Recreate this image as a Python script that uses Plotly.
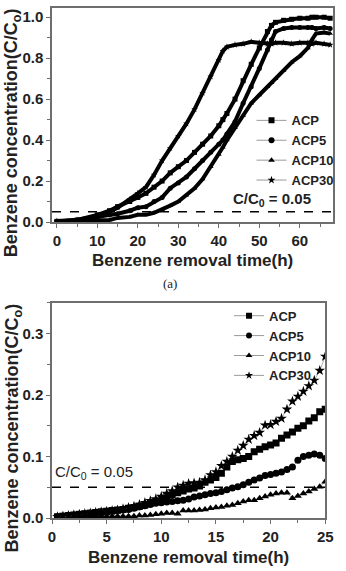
import plotly.graph_objects as go

# ---------------- data: panel (a) ----------------
T_TOP = [0, 5, 10, 13, 15, 18, 20, 22, 24, 26, 28, 30, 32, 34, 36, 38, 40, 41, 42, 44,
         46, 48, 50, 52, 53, 54, 56, 58, 60, 62, 63, 64, 66, 67.5]
ACP_TOP = [0.003, 0.01, 0.035, 0.055, 0.075, 0.10, 0.12, 0.14, 0.17, 0.20, 0.24, 0.27, 0.30, 0.34,
           0.38, 0.42, 0.47, 0.50, 0.53, 0.60, 0.69, 0.77, 0.85, 0.93, 0.96, 0.975, 0.985, 0.99,
           0.995, 0.995, 1.0, 1.0, 1.0, 0.995]
ACP5_TOP = [0.003, 0.008, 0.025, 0.035, 0.04, 0.055, 0.07, 0.075, 0.10, 0.12, 0.165, 0.19, 0.22,
            0.26, 0.30, 0.34, 0.38, 0.40, 0.43, 0.49, 0.58, 0.66, 0.75, 0.84, 0.89, 0.93, 0.945,
            0.95, 0.95, 0.95, 0.95, 0.945, 0.95, 0.945]
ACP10_TOP = [0.002, 0.004, 0.005, 0.01, 0.02, 0.025, 0.035, 0.035, 0.045, 0.06, 0.08, 0.10, 0.13,
             0.165, 0.21, 0.27, 0.33, 0.365, 0.40, 0.46, 0.52, 0.58, 0.62, 0.66, 0.68, 0.70, 0.74,
             0.78, 0.81, 0.85, 0.89, 0.92, 0.925, 0.92]
ACP30_TOP = [0.005, 0.01, 0.03, 0.05, 0.07, 0.11, 0.14, 0.17, 0.23, 0.30, 0.36, 0.42, 0.48, 0.55,
             0.63, 0.71, 0.79, 0.835, 0.855, 0.865, 0.87, 0.88, 0.875, 0.87, 0.87, 0.875, 0.875,
             0.87, 0.875, 0.875, 0.87, 0.875, 0.87, 0.865]

# ---------------- data: panel (b) ----------------
T_BOT = [0.5 * i for i in range(1, 51)]
ACP_BOT = [0.002, 0.003, 0.004, 0.005, 0.006, 0.007, 0.008, 0.009, 0.010, 0.011, 0.012, 0.013,
           0.014, 0.016, 0.017, 0.019, 0.021, 0.024, 0.027, 0.031, 0.035, 0.038, 0.041, 0.044,
           0.047, 0.049, 0.052, 0.058, 0.062, 0.066, 0.073, 0.083, 0.092, 0.095, 0.097, 0.100,
           0.108, 0.112, 0.116, 0.119, 0.122, 0.130, 0.135, 0.140, 0.146, 0.150, 0.158, 0.163,
           0.173, 0.177]
ACP5_BOT = [0.002, 0.003, 0.004, 0.004, 0.005, 0.006, 0.007, 0.008, 0.009, 0.010, 0.011, 0.012,
            0.013, 0.014, 0.016, 0.018, 0.020, 0.022, 0.024, 0.025, 0.026, 0.027, 0.028, 0.029,
            0.031, 0.034, 0.036, 0.038, 0.040, 0.041, 0.043, 0.046, 0.049, 0.051, 0.054, 0.058,
            0.062, 0.065, 0.069, 0.071, 0.073, 0.075, 0.079, 0.083, 0.094, 0.100, 0.102, 0.104,
            0.102, 0.097]
ACP10_BOT = [0.001, 0.001, 0.001, 0.002, 0.002, 0.002, 0.002, 0.003, 0.003, 0.003, 0.003, 0.003,
             0.003, 0.003, 0.003, 0.004, 0.004, 0.005, 0.006, 0.007, 0.008, 0.008, 0.007, 0.012,
             0.012, 0.012, 0.013, 0.014, 0.016, 0.017, 0.018, 0.020, 0.021, 0.024, 0.027, 0.029,
             0.029, 0.032, 0.035, 0.038, 0.040, 0.041, 0.041, 0.032, 0.036, 0.040, 0.043, 0.047,
             0.051, 0.059]
ACP30_BOT = [0.002, 0.003, 0.004, 0.005, 0.006, 0.007, 0.008, 0.009, 0.010, 0.011, 0.012, 0.013,
             0.015, 0.017, 0.019, 0.022, 0.025, 0.028, 0.031, 0.035, 0.040, 0.044, 0.050, 0.053,
             0.056, 0.057, 0.058, 0.062, 0.070, 0.075, 0.085, 0.092, 0.100, 0.110, 0.118, 0.128,
             0.134, 0.139, 0.151, 0.152, 0.157, 0.162, 0.177, 0.190, 0.198, 0.206, 0.215, 0.224,
             0.240, 0.263]

NAMES = ["ACP", "ACP5", "ACP10", "ACP30"]
SYMBOLS = ["square", "circle", "triangle-up", "star"]
BOT_SIZES = [7, 7, 7, 8]
THRESHOLD = 0.05
THRESH_LABEL = "C/C<sub>0</sub> = 0.05"
Y_TITLE = "Benzene concentration(C/C<sub>o</sub>)"
X_TITLE = "Benzene removal time(h)"

FONT = "Liberation Sans, Arial, sans-serif"

fig = go.Figure()

top_series = [ACP_TOP, ACP5_TOP, ACP10_TOP, ACP30_TOP]
bot_series = [ACP_BOT, ACP5_BOT, ACP10_BOT, ACP30_BOT]

for name, sym, ys in zip(NAMES, SYMBOLS, top_series):
    fig.add_trace(go.Scatter(x=T_TOP, y=ys, mode="lines+markers", xaxis="x", yaxis="y",
                             line=dict(color="black", width=4),
                             marker=dict(symbol=sym, size=5, color="black"),
                             showlegend=False, hoverinfo="skip"))
    fig.add_trace(go.Scatter(x=[None], y=[None], mode="lines+markers", xaxis="x", yaxis="y",
                             name=name, legend="legend",
                             line=dict(color="#9a9a9a", width=1),
                             marker=dict(symbol=sym, size=6, color="black")))

for name, sym, sz, ys in zip(NAMES, SYMBOLS, BOT_SIZES, bot_series):
    fig.add_trace(go.Scatter(x=T_BOT, y=ys, mode="lines+markers", xaxis="x2", yaxis="y2",
                             showlegend=False, hoverinfo="skip",
                             line=dict(color="#b0b0b0", width=1),
                             marker=dict(symbol=sym, size=sz, color="black")))
    fig.add_trace(go.Scatter(x=[None], y=[None], mode="lines+markers", xaxis="x2", yaxis="y2",
                             name=name, legend="legend2",
                             line=dict(color="#9a9a9a", width=1),
                             marker=dict(symbol=sym, size=6, color="black")))

axis_common = dict(showline=True, linecolor="#6e6e6e", linewidth=1.5, mirror=True,
                   ticks="outside", ticklen=4, tickwidth=1.2, tickcolor="#6e6e6e",
                   showgrid=False, zeroline=False,
                   tickfont=dict(family=FONT, size=15, color="#222", weight="bold"))

fig.update_layout(
    width=346, height=571,
    margin=dict(l=52, r=5, t=8, b=53),
    paper_bgcolor="white", plot_bgcolor="white",
    xaxis=dict(domain=[0, 1], anchor="y", range=[-1.2, 68.2], dtick=10,
               minor=dict(dtick=5, ticks="outside", ticklen=3, tickcolor="#6e6e6e"),
               **axis_common),
    yaxis=dict(domain=[0.5804, 1], anchor="x", range=[0, 1.045], dtick=0.2, tickformat=".1f",
               minor=dict(dtick=0.1, ticks="outside", ticklen=3, tickcolor="#6e6e6e"),
               **axis_common),
    xaxis2=dict(domain=[0, 0.9723], anchor="y2", range=[0, 25], dtick=5,
                minor=dict(dtick=2.5, ticks="outside", ticklen=3, tickcolor="#6e6e6e"),
                **axis_common),
    yaxis2=dict(domain=[0, 0.4216], anchor="x2", range=[0, 0.35], dtick=0.1, tickformat=".1f",
                minor=dict(dtick=0.05, ticks="outside", ticklen=3, tickcolor="#6e6e6e"),
                **axis_common),
    legend=dict(x=0.71, y=0.809, xanchor="left", yanchor="top", bgcolor="rgba(0,0,0,0)",
                font=dict(family=FONT, size=13, color="#222", weight="bold"),
                itemclick=False, tracegroupgap=0),
    legend2=dict(x=0.63, y=0.426, xanchor="left", yanchor="top", bgcolor="rgba(0,0,0,0)",
                 font=dict(family=FONT, size=13, color="#222", weight="bold"),
                 itemclick=False, tracegroupgap=0),
    shapes=[
        dict(type="line", xref="x domain", yref="y", x0=0, x1=1, y0=THRESHOLD, y1=THRESHOLD,
             line=dict(color="black", width=1.5, dash="dash")),
        dict(type="line", xref="x2 domain", yref="y2", x0=0, x1=1, y0=THRESHOLD, y1=THRESHOLD,
             line=dict(color="black", width=1.5, dash="dash")),
    ],
    showlegend=True,
)

ann_font = dict(family=FONT, color="#222", weight="bold")
fig.add_annotation(x=(320 - 52) / 289, y=THRESHOLD, xref="paper", yref="y", text=THRESH_LABEL,
                   showarrow=False, xanchor="right", yanchor="bottom", yshift=1,
                   font=dict(size=15, **ann_font))
fig.add_annotation(x=0.005, y=THRESHOLD, xref="x2 domain", yref="y2", text=THRESH_LABEL,
                   showarrow=False, xanchor="left", yanchor="bottom", yshift=3,
                   font=dict(size=15, family=FONT, color="#222"))
# axis titles
for yc in [0.755, 0.176]:
    fig.add_annotation(x=-0.138, y=yc, xref="paper", yref="paper", text=Y_TITLE,
                       textangle=-90, showarrow=False, xanchor="center", yanchor="middle",
                       font=dict(size=18, **ann_font))
fig.add_annotation(x=0.5, y=(518 - 260) / 510, xref="paper", yref="paper", text=X_TITLE,
                   showarrow=False, xanchor="center", yanchor="middle",
                   font=dict(size=17, **ann_font))
fig.add_annotation(x=(192 - 52) / 289, y=(518 - 557) / 510, xref="paper", yref="paper",
                   text=X_TITLE, showarrow=False, xanchor="center", yanchor="middle",
                   font=dict(size=17, **ann_font))
fig.add_annotation(x=(173 - 52) / 289, y=(518 - 283) / 510, xref="paper", yref="paper",
                   text="(a)", showarrow=False, xanchor="center", yanchor="middle",
                   font=dict(size=13, family="Liberation Serif, Times New Roman, serif",
                             color="#222"))

fig.write_html("out.html")
